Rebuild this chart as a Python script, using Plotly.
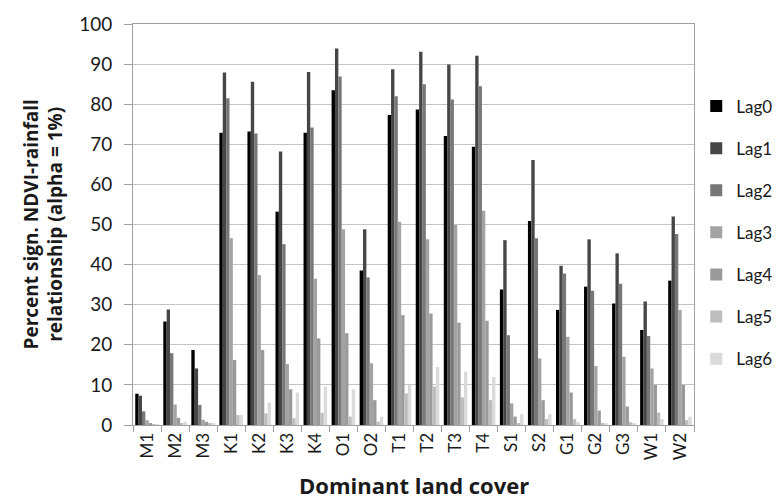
import plotly.graph_objects as go

categories = ["M1", "M2", "M3", "K1", "K2", "K3", "K4", "O1", "O2", "T1",
              "T2", "T3", "T4", "S1", "S2", "G1", "G2", "G3", "W1", "W2"]

lag0 = [7.8, 25.8, 18.7, 72.9, 73.2, 53.2, 72.9, 83.5, 38.5, 77.3,
        78.7, 72.1, 69.4, 33.8, 50.9, 28.7, 34.5, 30.3, 23.7, 36.0]
lag1 = [7.3, 28.8, 14.1, 87.9, 85.6, 68.2, 88.0, 93.9, 48.8, 88.7,
        93.1, 89.9, 92.1, 46.1, 66.1, 39.7, 46.3, 42.8, 30.8, 52.0]
lag2 = [3.4, 17.9, 5.0, 81.5, 72.7, 45.1, 74.2, 86.9, 36.8, 82.0,
        85.0, 81.2, 84.5, 22.4, 46.6, 37.8, 33.5, 35.2, 22.2, 47.6]
lag3 = [1.2, 5.1, 1.3, 46.6, 37.4, 15.2, 36.5, 48.8, 15.4, 50.7,
        46.3, 49.9, 53.4, 5.4, 16.6, 22.0, 14.7, 17.0, 14.1, 28.7]
lag4 = [0.5, 1.8, 0.8, 16.2, 18.7, 8.9, 21.6, 22.9, 6.2, 27.4,
        27.8, 25.5, 26.0, 2.1, 6.2, 8.1, 3.6, 4.6, 10.0, 10.0]
lag5 = [0.2, 0.5, 0.5, 2.5, 2.9, 1.7, 3.0, 2.1, 0.8, 7.9,
        9.6, 6.9, 6.2, 0.5, 1.5, 1.5, 0.5, 0.7, 3.1, 1.2]
lag6 = [0.1, 0.8, 0.3, 2.5, 5.6, 8.1, 9.6, 8.9, 2.1, 10.0,
        14.5, 13.3, 12.0, 2.7, 2.7, 0.8, 0.3, 0.5, 1.5, 2.1]

series_names = ["Lag0", "Lag1", "Lag2", "Lag3", "Lag4", "Lag5", "Lag6"]
series_values = [lag0, lag1, lag2, lag3, lag4, lag5, lag6]
colors = ["#000000", "#464646", "#777777", "#a3a3a3", "#9a9a9a", "#bdbdbd", "#dadada"]

y_ticks = [0, 10, 20, 30, 40, 50, 60, 70, 80, 90, 100]

font_family = "Lato, 'Open Sans', sans-serif"
title_family = "'Open Sans', Lato, sans-serif"
txt = "#1a1a1a"

fig = go.Figure()
for name, vals, col in zip(series_names, series_values, colors):
    fig.add_trace(go.Bar(
        x=categories, y=vals, name=name, legendgroup=name,
        marker=dict(color=col, line=dict(width=0)),
    ))

fig.update_layout(
    width=772, height=491,
    margin=dict(l=125, r=86, t=16, b=74, autoexpand=False),
    paper_bgcolor="white", plot_bgcolor="white",
    barmode="group", bargap=0.16, bargroupgap=0,
    font=dict(family=font_family, size=15, color=txt),
    showlegend=True,
    legend=dict(x=0.8915, xref="container", xanchor="left",
                y=0.48, yanchor="middle",
                font=dict(size=17, color=txt),
                tracegroupgap=17, itemwidth=30,
                bgcolor="rgba(0,0,0,0)"),
    xaxis=dict(
        type="category", tickangle=-90, ticks="outside", tickson="boundaries",
        ticklen=6, tickcolor="#a0a0a0", showline=True, linecolor="#a0a0a0",
        mirror=True, showgrid=False, tickfont=dict(size=17, color=txt),
        automargin=False,
    ),
    yaxis=dict(
        range=[0, 100], tickvals=y_ticks, ticks="outside", ticklen=8,
        tickcolor="#a0a0a0", showline=True, linecolor="#a0a0a0", mirror=True,
        showgrid=True, gridcolor="#c4c4c4", gridwidth=1,
        tickfont=dict(size=19, color=txt), automargin=False,
        ticklabelstandoff=8,
    ),
    annotations=[
        dict(text="<b>Dominant land cover</b>", x=0.5, y=0, xref="paper",
             yref="paper", xanchor="center", yanchor="middle", yshift=-60,
             showarrow=False, font=dict(size=22, family=title_family, color=txt)),
        dict(text="<b>Percent sign. NDVI-rainfall<br>relationship (alpha = 1%)</b>",
             x=0, y=0.5, xref="paper", yref="paper", xanchor="center",
             yanchor="middle", xshift=-90, textangle=-90, showarrow=False,
             font=dict(size=19, family=title_family, color=txt)),
    ],
)

fig.write_html("out.html")
